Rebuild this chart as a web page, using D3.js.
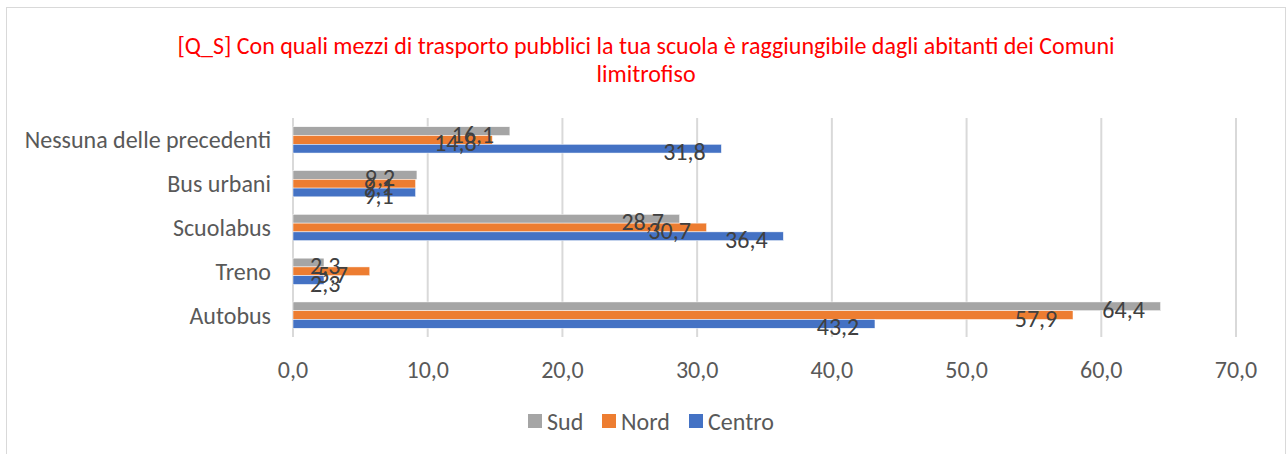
<!DOCTYPE html>
<html>
<head>
<meta charset="utf-8">
<script src="https://cdn.jsdelivr.net/npm/d3@7"></script>
<style>
  body { margin: 0; background: #fff; }
  svg text { font-family: Carlito, Calibri, "Open Sans", "Liberation Sans", sans-serif; }
</style>
</head>
<body>
<div id="chart"></div>
<script>
// data
const categories = ['Nessuna delle precedenti', 'Bus urbani', 'Scuolabus', 'Treno', 'Autobus'];
const seriesNames = ['Sud', 'Nord', 'Centro'];
const sudValues = [16.1, 9.2, 28.7, 2.3, 64.4];
const nordValues = [14.8, 9.1, 30.7, 5.7, 57.9];
const centroValues = [31.8, 9.1, 36.4, 2.3, 43.2];
const xTicks = [0, 10, 20, 30, 40, 50, 60, 70];
const titleLines = ['[Q_S] Con quali mezzi di trasporto pubblici la tua scuola è raggiungibile dagli abitanti dei Comuni', 'limitrofiso'];

const colors = {Sud: '#a5a5a5', Nord: '#ed7d31', Centro: '#4472c4'};
const seriesValues = {Sud: sudValues, Nord: nordValues, Centro: centroValues};

const W = 1287, H = 454;
const plot = {left: 293, right: 1236, top: 118, bottom: 337};

const it = d3.formatLocale({decimal: ',', thousands: '.', grouping: [3], currency: ['€', '']});
const fmt = it.format('.1f');

const svg = d3.select('#chart').append('svg')
  .attr('width', W).attr('height', H);

svg.append('rect').attr('width', W).attr('height', H).attr('fill', '#fff');
// chart border
svg.append('rect')
  .attr('x', 6.5).attr('y', 7.5).attr('width', 1279).attr('height', 460)
  .attr('fill', 'none').attr('stroke', '#d9d9d9');

// title
svg.append('g').selectAll('text')
  .data(titleLines).enter().append('text')
  .attr('x', 646).attr('y', (d, i) => 45 + i * 28)
  .attr('text-anchor', 'middle').attr('dominant-baseline', 'central')
  .attr('fill', '#ff0000').attr('font-size', '24px')
  .text(d => d);

const x = d3.scaleLinear().domain([0, 70]).range([plot.left, plot.right]);
const y = d3.scaleBand().domain(categories).range([plot.top, plot.bottom])
  .paddingInner(0.4).paddingOuter(0.2);
const ySub = d3.scaleBand().domain(seriesNames).range([0, y.bandwidth()]);

// gridlines
svg.append('g').selectAll('line')
  .data(xTicks).enter().append('line')
  .attr('x1', d => x(d)).attr('x2', d => x(d))
  .attr('y1', plot.top).attr('y2', plot.bottom)
  .attr('stroke', '#d9d9d9').attr('stroke-width', 2);

// x tick labels
svg.append('g').selectAll('text')
  .data(xTicks).enter().append('text')
  .attr('x', d => x(d)).attr('y', 369)
  .attr('text-anchor', 'middle').attr('dominant-baseline', 'central')
  .attr('fill', '#595959').attr('font-size', '24px')
  .text(d => fmt(d));

// category labels
svg.append('g').selectAll('text')
  .data(categories).enter().append('text')
  .attr('x', 271).attr('y', d => y(d) + y.bandwidth() / 2)
  .attr('text-anchor', 'end').attr('dominant-baseline', 'central')
  .attr('fill', '#595959').attr('font-size', '24px')
  .text(d => d);

// bars
const rows = [];
categories.forEach((c, i) => {
  seriesNames.forEach(s => rows.push({cat: c, series: s, value: seriesValues[s][i]}));
});

svg.append('g').selectAll('rect')
  .data(rows).enter().append('rect')
  .attr('x', x(0))
  .attr('y', d => y(d.cat) + ySub(d.series))
  .attr('width', d => x(d.value) - x(0))
  .attr('height', ySub.bandwidth())
  .attr('fill', d => colors[d.series])
  .attr('stroke', '#fff').attr('stroke-width', 0.5);

// value labels (they overlap in the original too)
const labels = svg.append('g').selectAll('text')
  .data(rows).enter().append('text')
  .attr('y', d => y(d.cat) + ySub(d.series) + ySub.bandwidth() / 2 + 3)
  .attr('text-anchor', 'middle').attr('dominant-baseline', 'central')
  .attr('fill', '#404040').attr('font-size', '24px')
  .text(d => fmt(d.value));
labels.attr('x', function (d) {
  const half = this.getComputedTextLength() / 2;
  return Math.max(x(d.value) - 37, x(0) + 17 + half);
});

// legend
const legendX = {Sud: 528, Nord: 602, Centro: 689};
const legend = svg.append('g').selectAll('g')
  .data(seriesNames).enter().append('g')
  .attr('transform', d => 'translate(' + legendX[d] + ',421)');
legend.append('rect')
  .attr('x', 0).attr('y', -7).attr('width', 14).attr('height', 14)
  .attr('fill', d => colors[d]);
legend.append('text')
  .attr('x', 19).attr('y', 0)
  .attr('dominant-baseline', 'central')
  .attr('fill', '#595959').attr('font-size', '24px')
  .text(d => d);
</script>
</body>
</html>
